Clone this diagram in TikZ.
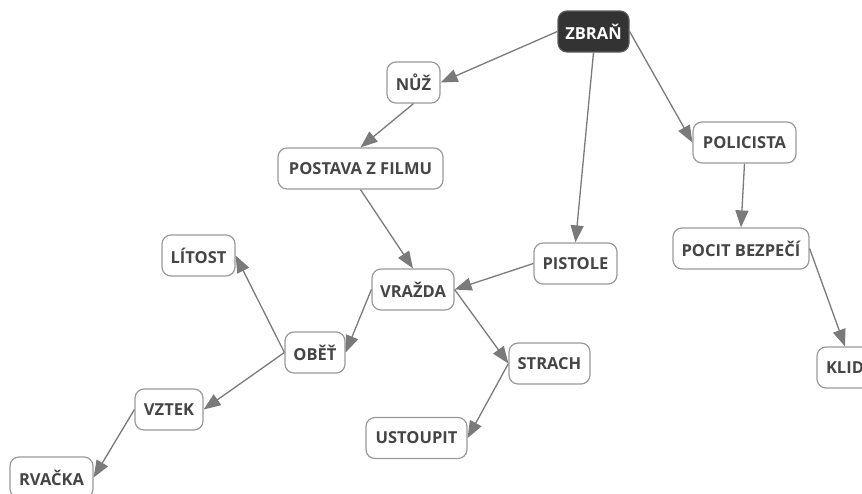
\documentclass[tikz,border=0pt]{standalone}
\usepackage{fontspec}
\setmainfont{Open Sans}
\usetikzlibrary{arrows.meta}
\definecolor{linegray}{HTML}{7A7A7A}
\definecolor{boxgray}{HTML}{9A9A9A}
\definecolor{txtgray}{HTML}{454545}
\definecolor{darkbox}{HTML}{333333}
\tikzset{
  concept/.style={draw=boxgray, line width=1.2pt, fill=white, rounded corners=9pt,
    minimum height=41pt, inner sep=0pt, text=txtgray,
    font=\fontsize{16.5}{18}\selectfont\bfseries},
  rootconcept/.style={concept, draw=darkbox!80!white, fill=darkbox, text=white},
  link/.style={draw=linegray, line width=1.3pt, -{Triangle[length=17pt,width=13pt]}}
}
\begin{document}
\begin{tikzpicture}[x=1pt,y=-1pt]
\useasboundingbox (0,0) rectangle (862,493);
\clip (0,0) rectangle (862,493);
\node[rootconcept, minimum width=71pt] (zbran) at (593.5,31.5) {ZBRAŇ};
\node[concept, minimum width=53pt] (nuz) at (413.5,82.5) {NŮŽ};
\node[concept, minimum width=165pt] (postava) at (360.5,168.5) {POSTAVA Z FILMU};
\node[concept, minimum width=83pt] (pistole) at (575.5,263.5) {PISTOLE};
\node[concept, minimum width=82pt] (vrazda) at (413,289.5) {VRAŽDA};
\node[concept, minimum width=103pt] (policista) at (744.5,142.5) {POLICISTA};
\node[concept, minimum width=136pt] (pocit) at (741,248.5) {POCIT BEZPEČÍ};
\node[concept, minimum width=56pt] (klid) at (845,367.5) {KLID};
\node[concept, minimum width=73pt] (litost) at (198.5,255.5) {LÍTOST};
\node[concept, minimum width=60pt] (obet) at (315,352.5) {OBĚŤ};
\node[concept, minimum width=68pt] (vztek) at (169,409.5) {VZTEK};
\node[concept, minimum width=83pt] (rvacka) at (51.5,477.5) {RVAČKA};
\node[concept, minimum width=81pt] (strach) at (549.5,363.5) {STRACH};
\node[concept, minimum width=101pt] (ustoupit) at (416.5,438) {USTOUPIT};

\draw[link] (zbran.west) -- (nuz.east);
\draw[link] (nuz.south) -- (postava.north);
\draw[link] (zbran.south) -- (pistole.north);
\draw[link] (zbran.east) -- (policista.west);
\draw[link] (policista.south) -- (pocit.north);
\draw[link] (pocit.east) -- (klid.north);
\draw[link] (postava.south) -- (vrazda.north);
\draw[link] (pistole.west) -- (vrazda.east);
\draw[link] (vrazda.west) -- (obet.east);
\draw[link] (vrazda.east) -- (strach.west);
\draw[link] (strach.west) -- (ustoupit.east);
\draw[link] (obet.west) -- (litost.east);
\draw[link] (obet.west) -- (vztek.east);
\draw[link] (vztek.west) -- (rvacka.east);
\end{tikzpicture}
\end{document}
